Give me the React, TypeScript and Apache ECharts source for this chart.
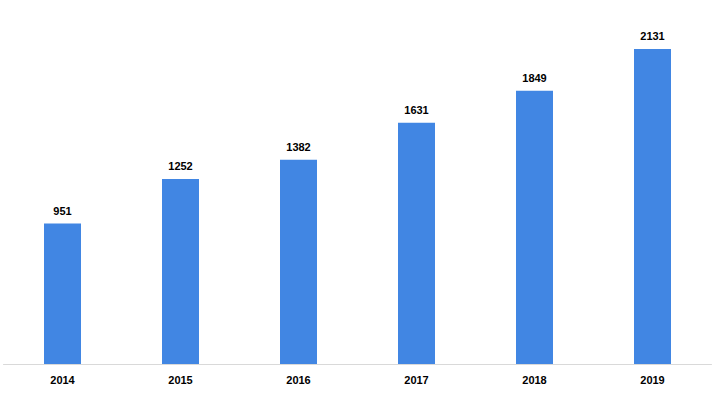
import React, { useEffect, useRef } from "react";
import * as echarts from "echarts";

const categories = ["2014", "2015", "2016", "2017", "2018", "2019"];
const values = [951, 1252, 1382, 1631, 1849, 2131];

export default function App() {
  const ref = useRef<HTMLDivElement>(null);
  useEffect(() => {
    if (!ref.current) return;
    const chart = echarts.init(ref.current, null, { renderer: "svg" });
    chart.setOption({
      animation: false,
      backgroundColor: "#ffffff",
      grid: { left: 3.5, width: 708, top: 4, height: 360, containLabel: false },
      xAxis: {
        type: "category",
        data: categories,
        axisLine: { show: true, lineStyle: { color: "#d9d9d9", width: 1 } },
        axisTick: { show: false },
        axisLabel: {
          color: "#000000",
          fontFamily: "Liberation Sans",
          fontWeight: "bold",
          fontSize: 11,
          margin: 10,
        },
      },
      yAxis: {
        type: "value",
        min: 0,
        max: 2435,
        show: false,
        splitLine: { show: false },
      },
      series: [
        {
          type: "bar",
          data: values,
          barWidth: 37,
          itemStyle: { color: "#4186E3" },
          label: {
            show: true,
            position: "top",
            distance: 7,
            color: "#000000",
            fontFamily: "Liberation Sans",
            fontWeight: "bold",
            fontSize: 11,
          },
        },
      ],
    });
    return () => chart.dispose();
  }, []);
  return (
    <div
      ref={ref}
      style={{ width: 717, height: 400, position: "fixed", left: 0, top: 0 }}
    />
  );
}
